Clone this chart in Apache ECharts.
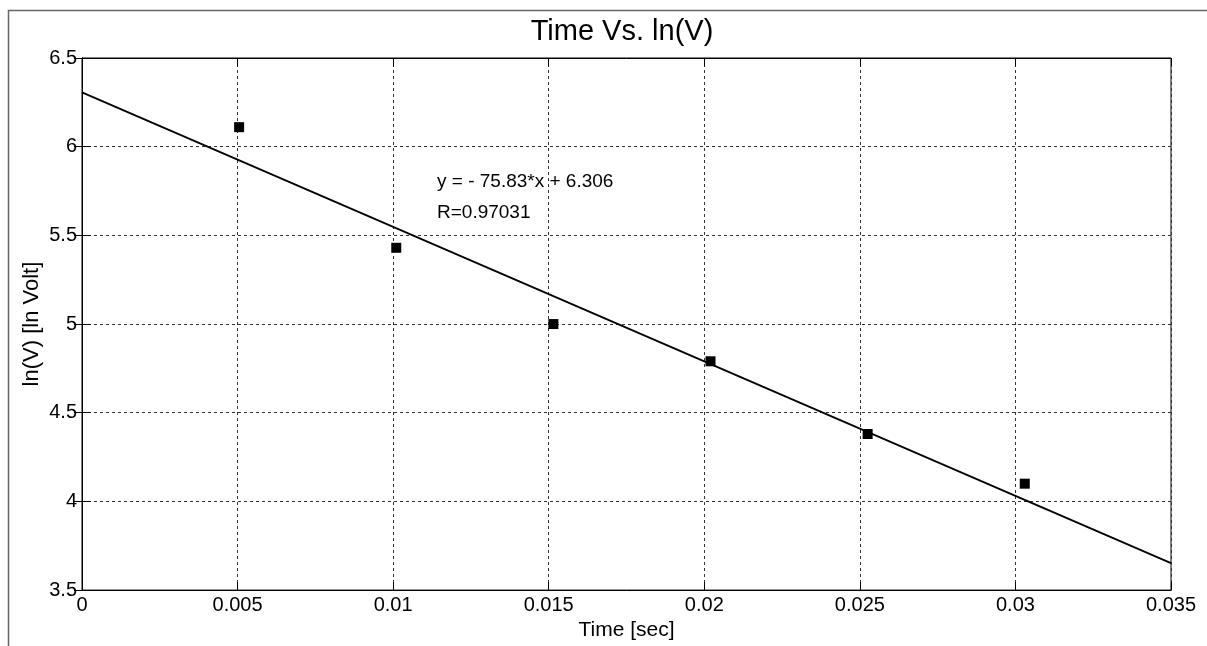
<!DOCTYPE html>
<html>
<head>
<meta charset="utf-8">
<script src="https://cdn.jsdelivr.net/npm/echarts@6/dist/echarts.min.js"></script>
<style>
html,body{margin:0;padding:0;background:#fff;}
#chart{width:1207px;height:646px;}
</style>
</head>
<body>
<div id="chart"></div>
<script>
// ---- data ----
const timeSec = [0.00505, 0.0101, 0.01515, 0.0202, 0.02525, 0.0303];
const lnV = [6.11, 5.43, 5.0, 4.79, 4.38, 4.10];
const fitSlope = -75.83;
const fitIntercept = 6.306;
const fitRange = [0, 0.035];
const xTicks = [0, 0.035, 0.005];   // min, max, interval
const yTicks = [3.5, 6.5, 0.5];     // min, max, interval
const titleText = 'Time Vs. ln(V)';
const xName = 'Time [sec]';
const yName = 'ln(V) [ln Volt]';
const eqText = 'y = - 75.83*x + 6.306';
const rText = 'R=0.97031';

const FONT = '"Liberation Sans", Arial, sans-serif';
const points = timeSec.map((t, i) => [t, lnV[i]]);
const fitLine = fitRange.map(x => [x, fitSlope * x + fitIntercept]);

const gridLine = { show: true, lineStyle: { color: '#333', type: [3, 3], width: 1 } };
const tick = { show: true, inside: true, length: 8, lineStyle: { color: '#000' } };
const noLabel = { show: false };

const chart = echarts.init(document.getElementById('chart'), null, { renderer: 'canvas' });
chart.setOption({
  animation: false,
  backgroundColor: '#fff',
  grid: { left: 82, top: 58, right: 36, bottom: 54, show: true, borderColor: '#000', borderWidth: 1, backgroundColor: 'transparent' },
  xAxis: [{
    type: 'value', min: xTicks[0], max: xTicks[1], interval: xTicks[2], position: 'bottom',
    name: xName, nameLocation: 'middle', nameGap: 26,
    nameTextStyle: { fontFamily: FONT, fontSize: 21, color: '#000' },
    axisLine: { show: true, lineStyle: { color: '#000', width: 1 } },
    axisTick: tick, splitLine: gridLine,
    axisLabel: { fontFamily: FONT, fontSize: 20, color: '#000', margin: 5 }
  }, {
    type: 'value', min: xTicks[0], max: xTicks[1], interval: xTicks[2], position: 'top',
    axisLine: { show: true, lineStyle: { color: '#000' } }, axisTick: tick, splitLine: { show: false }, axisLabel: noLabel
  }],
  yAxis: [{
    type: 'value', min: yTicks[0], max: yTicks[1], interval: yTicks[2], position: 'left',
    name: yName, nameLocation: 'middle', nameGap: 39, nameMoveOverlap: false,
    nameTextStyle: { fontFamily: FONT, fontSize: 22, color: '#000' },
    axisLine: { show: true, lineStyle: { color: '#000', width: 1 } },
    axisTick: tick, splitLine: gridLine,
    axisLabel: { fontFamily: FONT, fontSize: 20, color: '#000', margin: 5 }
  }, {
    type: 'value', min: yTicks[0], max: yTicks[1], interval: yTicks[2], position: 'right',
    axisLine: { show: true, lineStyle: { color: '#000' } }, axisTick: tick, splitLine: { show: false }, axisLabel: noLabel
  }],
  series: [{
    type: 'line', data: fitLine, showSymbol: false, symbol: 'none',
    lineStyle: { color: '#000', width: 1.8 }, z: 2
  }, {
    type: 'scatter', data: points, symbol: 'rect', symbolSize: 10,
    itemStyle: { color: '#000', opacity: 1 }, z: 3
  }],
  graphic: [
    { type: 'polyline', shape: { points: [[8.5, 646], [8.5, 10.5], [1207, 10.5]] }, style: { stroke: '#666', lineWidth: 1.5, fill: null }, silent: true },
    { type: 'text', x: 622, y: 32, style: { text: titleText, font: '29px ' + FONT, fill: '#000', align: 'center', verticalAlign: 'middle' } },
    { type: 'text', x: 437, y: 182, style: { text: eqText, font: '19px ' + FONT, fill: '#000', align: 'left', verticalAlign: 'middle' } },
    { type: 'text', x: 437, y: 213, style: { text: rText, font: '19px ' + FONT, fill: '#000', align: 'left', verticalAlign: 'middle' } }
  ]
});
</script>
</body>
</html>
